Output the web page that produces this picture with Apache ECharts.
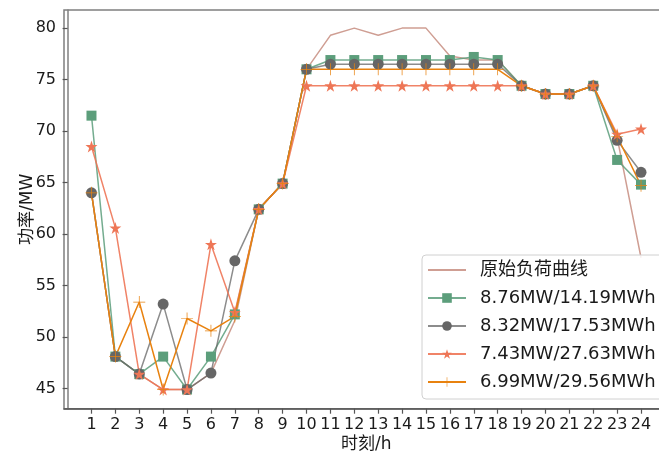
<!DOCTYPE html>
<html>
<head>
<meta charset="utf-8">
<script src="https://cdn.jsdelivr.net/npm/echarts@6/dist/echarts.min.js"></script>
<style>
  html, body { margin: 0; padding: 0; background: #fff; }
  #chart { width: 659px; height: 456px; }
</style>
</head>
<body>
<div id="chart"></div>
<script>
// 时刻 1..24
var hours = [1,2,3,4,5,6,7,8,9,10,11,12,13,14,15,16,17,18,19,20,21,22,23,24];
var yTicks = [45, 50, 55, 60, 65, 70, 75, 80];

var seriesNames = ['原始负荷曲线', '8.76MW/14.19MWh', '8.32MW/17.53MWh', '7.43MW/27.63MWh', '6.99MW/29.56MWh'];

var original = [64.0,48.1,46.4,44.9,44.9,46.5,51.6,62.4,64.9,76.0,79.3,80.0,79.3,80.0,80.0,77.3,76.9,76.9,74.4,73.6,73.6,74.4,69.4,57.7];
var case1 = [71.5,48.1,46.4,48.1,44.9,48.1,52.2,62.4,64.9,76.0,76.9,76.9,76.9,76.9,76.9,76.9,77.2,76.9,74.4,73.6,73.6,74.4,67.2,64.8];
var case2 = [64.0,48.1,46.4,53.2,44.9,46.5,57.4,62.4,64.9,76.0,76.5,76.5,76.5,76.5,76.5,76.5,76.5,76.5,74.4,73.6,73.6,74.4,69.1,66.0];
var case3 = [68.5,60.6,46.4,44.9,44.9,59.0,52.4,62.4,64.9,74.4,74.4,74.4,74.4,74.4,74.4,74.4,74.4,74.4,74.4,73.6,73.6,74.4,69.7,70.2];
var case4 = [64.0,48.1,53.4,44.9,51.8,50.6,52.0,62.4,64.9,76.0,76.0,76.0,76.0,76.0,76.0,76.0,76.0,76.0,74.4,73.6,73.6,74.4,69.5,64.7];

var starPath = 'path://M0,-10L2.245,-3.09L9.51,-3.09L3.633,1.18L5.88,8.09L0,3.82L-5.88,8.09L-3.633,1.18L-9.51,-3.09L-2.245,-3.09Z';
var plusPath = 'path://M-0.6,-10H0.6V-0.6H10V0.6H0.6V10H-0.6V0.6H-10V-0.6H-0.6Z';

function pairs(vals) {
    return hours.map(function (h, i) { return [h, vals[i]]; });
}

var font = '"DejaVu Sans", "Noto Sans CJK SC", sans-serif';

var myChart = echarts.init(document.getElementById('chart'));

function mkSeries(name, vals, color, symbol, size, lineOpacity) {
    return {
        name: name,
        type: 'line',
        data: pairs(vals),
        symbol: symbol,
        symbolSize: size,
        showSymbol: symbol !== 'none',
        itemStyle: { color: color, opacity: 1 },
        lineStyle: { color: color, width: 1.5, opacity: lineOpacity },
        emphasis: { disabled: true },
        animation: false
    };
}

var option = {
    animation: false,
    grid: {
        left: 64, right: -9.5, top: 10, bottom: 47.3,
        outerBoundsMode: 'none',
        containLabel: false,
        show: true, borderColor: '#7f7f7f', borderWidth: 1.5, backgroundColor: 'transparent'
    },
    legend: {
        orient: 'vertical',
        left: 422, top: 255,
        padding: [6, 10, 8, 5],
        itemWidth: 38,
        itemHeight: 12,
        itemGap: 10,
        backgroundColor: 'rgba(255,255,255,0.85)',
        borderColor: '#d0d0d0',
        borderWidth: 1,
        borderRadius: 4,
        textStyle: { fontFamily: font, fontSize: 18, color: '#1a1a1a', lineHeight: 18, padding: [0, 0, 0, 9] },
        data: [
            { name: seriesNames[0], itemStyle: { opacity: 0 } },
            seriesNames[1], seriesNames[2], seriesNames[3], seriesNames[4]
        ]
    },
    xAxis: {
        type: 'value',
        min: -0.15, max: 25.15,
        name: '时刻/h',
        nameLocation: 'middle',
        nameGap: 27,
        nameMoveOverlap: false,
        nameTextStyle: { fontFamily: font, fontSize: 17, color: '#1a1a1a' },
        splitLine: { show: false },
        axisLine: { lineStyle: { color: '#555', width: 1.5 } },
        axisTick: { show: true, length: 5, lineStyle: { color: '#555', width: 1.2 }, customValues: hours },
        axisLabel: { fontFamily: font, fontSize: 16, color: '#1a1a1a', margin: 8, customValues: hours }
    },
    yAxis: {
        type: 'value',
        min: 43.04, max: 81.76,
        name: '功率/MW',
        nameLocation: 'middle',
        nameGap: 28,
        nameMoveOverlap: false,
        nameTextStyle: { fontFamily: font, fontSize: 17, color: '#1a1a1a' },
        splitLine: { show: false },
        axisLine: { show: true, lineStyle: { color: '#808080', width: 1.5 } },
        axisTick: { show: true, length: 5, lineStyle: { color: '#555', width: 1.2 }, customValues: yTicks },
        axisLabel: { fontFamily: font, fontSize: 16, color: '#1a1a1a', margin: 8, customValues: yTicks }
    },
    series: [
        mkSeries(seriesNames[0], original, '#cf9e93', 'none', 0, 1),
        mkSeries(seriesNames[1], case1, '#5c9e7b', 'rect', 10, 0.85),
        mkSeries(seriesNames[2], case2, '#666666', 'circle', 11, 0.75),
        mkSeries(seriesNames[3], case3, '#ee7656', starPath, 12, 0.9),
        mkSeries(seriesNames[4], case4, '#e8820f', plusPath, 12, 1)
    ]
};

myChart.setOption(option);
</script>
</body>
</html>
